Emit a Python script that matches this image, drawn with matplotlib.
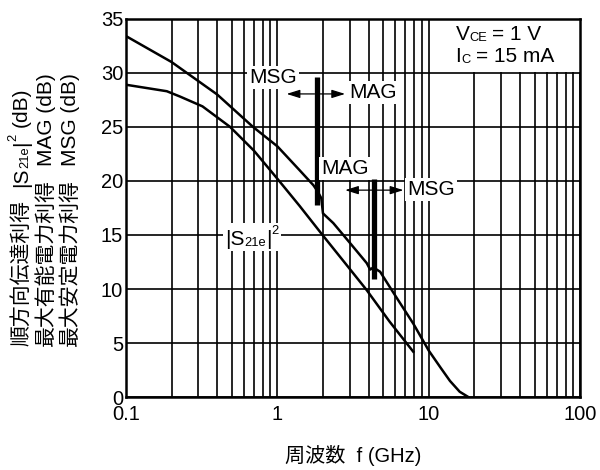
import numpy as np
import matplotlib
matplotlib.use('Agg')
import matplotlib.pyplot as plt
from matplotlib.ticker import LogLocator, FixedLocator, NullFormatter
from matplotlib.transforms import IdentityTransform
from matplotlib.patches import Rectangle

plt.rcParams['font.family'] = ['Liberation Sans', 'Noto Sans CJK JP', 'DejaVu Sans']

# MSG / MAG curve (upper)
f_gain = [0.1, 0.2, 0.4, 0.69, 1.0, 1.4, 1.73, 1.85, 1.95, 2.0, 2.34, 3.0, 3.89, 4.1, 4.3,
          4.77, 6.0, 7.9, 10.0, 12.0, 13.8, 16.0, 18.3]
g_gain = [33.4, 31.0, 28.0, 25.0, 23.2, 21.0, 19.6, 19.0, 18.4, 17.0, 16.1, 14.3, 12.4, 11.8, 12.0,
          11.6, 9.4, 6.8, 4.3, 2.7, 1.5, 0.5, 0.0]
# |S21e|^2 curve (lower)
f_s21 = [0.1, 0.186, 0.228, 0.32, 0.487, 0.7, 1.0, 1.4, 1.96, 2.8, 3.89, 5.5, 7.9]
g_s21 = [28.9, 28.3, 27.8, 26.9, 25.0, 22.8, 20.2, 17.7, 15.1, 12.4, 9.9, 7.0, 4.2]

# MSG -> MAG boundaries: (f, y bottom, y top)
bounds = [(1.82, 17.8, 29.65), (4.36, 10.9, 20.2)]

fig = plt.figure(figsize=(6.0, 4.7), dpi=100)
ax = fig.add_axes([0.21, 0.155, 0.757, 0.805])
ax.set_xscale('log')
ax.set_xlim(0.1, 100)
ax.set_ylim(0, 35)

ax.xaxis.set_major_locator(FixedLocator([0.1, 1, 10, 100]))
ax.xaxis.set_minor_locator(LogLocator(base=10, subs=np.arange(2, 10)))
ax.xaxis.set_minor_formatter(NullFormatter())
ax.set_xticklabels(['0.1', '1', '10', '100'])
ax.set_yticks(range(0, 36, 5))
ax.grid(which='both', axis='x', color='black', lw=1.2)
ax.grid(which='major', axis='y', color='black', lw=1.2)
ax.tick_params(which='both', length=0, labelsize=14.5)
ax.tick_params(axis='x', pad=6)
ax.tick_params(axis='y', pad=2)
for s in ax.spines.values():
    s.set_linewidth(1.8)

ax.plot(f_gain, g_gain, color='black', lw=1.8, zorder=3)
ax.plot(f_s21, g_s21, color='black', lw=1.8, zorder=3)
for fb, y0, y1 in bounds:
    ax.plot([fb, fb], [y0, y1], color='black', lw=3.8, zorder=4, solid_capstyle='butt')

arw = dict(arrowstyle='-|>,head_length=0.8,head_width=0.25', color='black', lw=0.9,
           shrinkA=0, shrinkB=0)
ax.annotate('', xy=(1.15, 28.05), xytext=(1.76, 28.05), arrowprops=arw, zorder=4)
ax.annotate('', xy=(2.8, 28.05), xytext=(1.88, 28.05), arrowprops=arw, zorder=4)
ax.annotate('', xy=(2.8, 19.15), xytext=(4.22, 19.15), arrowprops=arw, zorder=4)
ax.annotate('', xy=(6.8, 19.15), xytext=(4.5, 19.15), arrowprops=arw, zorder=4)

box = dict(facecolor='white', edgecolor='none', pad=1.5)
lab = dict(fontsize=15, ha='center', va='center', bbox=box, zorder=5)
ax.text(0.94, 29.6, 'MSG', **lab)
ax.text(4.3, 28.2, 'MAG', **lab)
ax.text(2.8, 21.15, 'MAG', **lab)
ax.text(10.4, 19.2, 'MSG', **lab)

# white area behind bias conditions
ax.fill_between([13.2, 100], 30.1, 35, color='white', zorder=2.5, lw=0)

renderer = fig.canvas.get_renderer()
PX = 100 / 72.0


def rich(x, y, pieces, size, rot=0, bg=None):
    """Lay out text pieces (text, scale, baseline shift in em, gap after in em) in pixels."""
    pos = 0.0
    boxes = []
    for s, sc, sh, gap in pieces:
        off = sh * size * PX
        if rot == 0:
            px, py = x + pos, y + off
        else:
            px, py = x - off, y + pos
        t = fig.text(px, py, s, fontsize=size * sc, rotation=rot, rotation_mode='anchor',
                     ha='left', va='baseline', transform=IdentityTransform(), zorder=6)
        bb = t.get_window_extent(renderer)
        boxes.append(bb)
        pos += (bb.width if rot == 0 else bb.height) + gap * size * PX
    if bg is not None:
        x0 = min(b.x0 for b in boxes) - bg
        y0 = min(b.y0 for b in boxes) - bg
        x1 = max(b.x1 for b in boxes) + bg
        y1 = max(b.y1 for b in boxes) + bg
        fig.add_artist(Rectangle((x0, y0), x1 - x0, y1 - y0, facecolor='white',
                                 edgecolor='none', transform=IdentityTransform(), zorder=5))


def disp(xd, yd):
    return ax.transData.transform((xd, yd))


x0, y0 = disp(15.0, 33.0)
rich(x0, y0, [('V', 1, 0, 0), ('CE', 0.62, -0.04, 0.25), ('= 1 V', 1, 0, 0)], 15)
x0, y0 = disp(15.0, 31.0)
rich(x0, y0, [('I', 1, 0, 0), ('C', 0.62, -0.04, 0.25), ('= 15 mA', 1, 0, 0)], 15)
x0, y0 = disp(0.45, 14.1)
rich(x0, y0, [('|S', 1, 0, 0), ('21e', 0.62, -0.04, 0), ('|', 1, 0, 0), ('2', 0.62, 0.5, 0)],
     15, bg=2)

# y label: three rotated lines
ysz = 15
rich(27, 124, [('順方向伝達利得', 1, 0, 0.6), ('|S', 1, 0, 0), ('21e', 0.62, -0.04, 0),
               ('|', 1, 0, 0), ('2', 0.62, 0.5, 0.3), ('(dB)', 1, 0, 0)], ysz, rot=90)
rich(52, 124, [('最大有能電力利得', 1, 0, 0.6), ('MAG (dB)', 1, 0, 0)], ysz, rot=90)
rich(76, 124, [('最大安定電力利得', 1, 0, 0.6), ('MSG (dB)', 1, 0, 0)], ysz, rot=90)

fig.text(353 / 600, 1 - 455 / 470, '周波数  f (GHz)', fontsize=14.5, ha='center', va='center')

fig.savefig('out.png', dpi=100)
